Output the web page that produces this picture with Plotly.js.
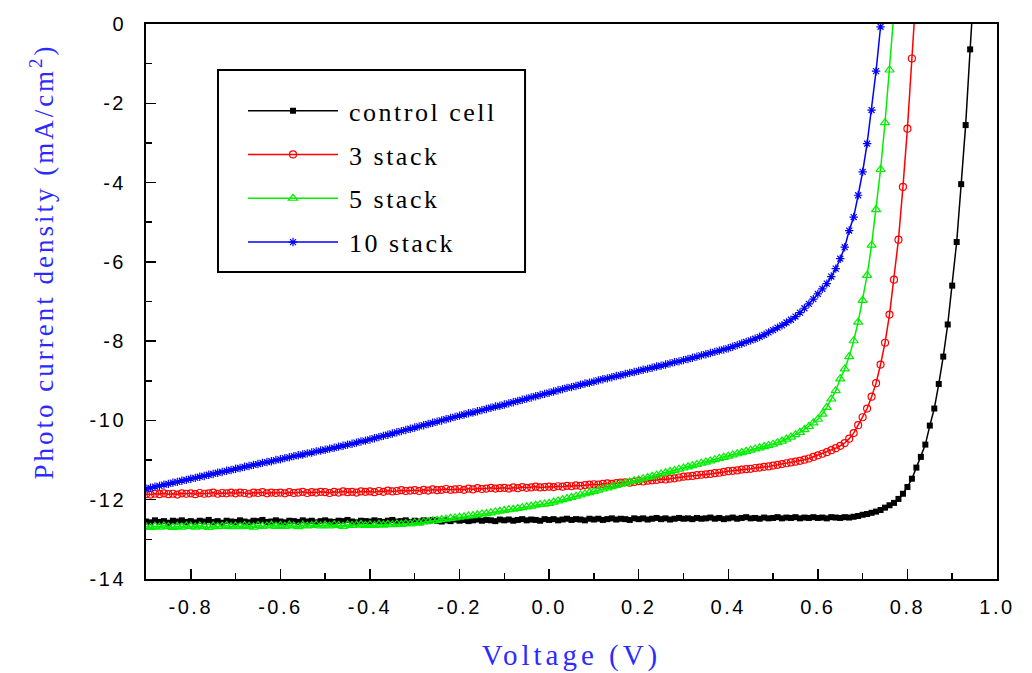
<!DOCTYPE html>
<html>
<head>
<meta charset="utf-8">
<script src="https://cdn.plot.ly/plotly-3.0.1.min.js"></script>
<style>
  html, body { margin: 0; padding: 0; background: #fff; }
  #chart { width: 1032px; height: 673px; }
  .xtick text, .ytick text { letter-spacing: 2.5px; }
  .g-xtitle text { letter-spacing: 4px; }
  .g-ytitle text { letter-spacing: 3px; }
  .legendtext { letter-spacing: 2.5px; }
</style>
</head>
<body>
<div id="chart"></div>
<script>
// Bias voltage sweep (V), 10 mV steps
const voltage = [
  -0.90,-0.89,-0.88,-0.87,-0.86,-0.85,-0.84,-0.83,-0.82,-0.81,
  -0.80,-0.79,-0.78,-0.77,-0.76,-0.75,-0.74,-0.73,-0.72,-0.71,
  -0.70,-0.69,-0.68,-0.67,-0.66,-0.65,-0.64,-0.63,-0.62,-0.61,
  -0.60,-0.59,-0.58,-0.57,-0.56,-0.55,-0.54,-0.53,-0.52,-0.51,
  -0.50,-0.49,-0.48,-0.47,-0.46,-0.45,-0.44,-0.43,-0.42,-0.41,
  -0.40,-0.39,-0.38,-0.37,-0.36,-0.35,-0.34,-0.33,-0.32,-0.31,
  -0.30,-0.29,-0.28,-0.27,-0.26,-0.25,-0.24,-0.23,-0.22,-0.21,
  -0.20,-0.19,-0.18,-0.17,-0.16,-0.15,-0.14,-0.13,-0.12,-0.11,
  -0.10,-0.09,-0.08,-0.07,-0.06,-0.05,-0.04,-0.03,-0.02,-0.01,
  0.00,0.01,0.02,0.03,0.04,0.05,0.06,0.07,0.08,0.09,
  0.10,0.11,0.12,0.13,0.14,0.15,0.16,0.17,0.18,0.19,
  0.20,0.21,0.22,0.23,0.24,0.25,0.26,0.27,0.28,0.29,
  0.30,0.31,0.32,0.33,0.34,0.35,0.36,0.37,0.38,0.39,
  0.40,0.41,0.42,0.43,0.44,0.45,0.46,0.47,0.48,0.49,
  0.50,0.51,0.52,0.53,0.54,0.55,0.56,0.57,0.58,0.59,
  0.60,0.61,0.62,0.63,0.64,0.65,0.66,0.67,0.68,0.69,
  0.70,0.71,0.72,0.73,0.74,0.75,0.76,0.77,0.78,0.79,
  0.80,0.81,0.82,0.83,0.84,0.85,0.86,0.87,0.88,0.89,
  0.90,0.91,0.92,0.93,0.94,0.95
];

// Photo current density (mA/cm2) per device
const controlCell = [
  -12.55,-12.57,-12.52,-12.56,-12.54,-12.58,-12.53,-12.55,-12.52,-12.56,
  -12.54,-12.57,-12.53,-12.55,-12.51,-12.56,-12.54,-12.58,-12.53,-12.55,
  -12.56,-12.52,-12.55,-12.57,-12.53,-12.54,-12.51,-12.56,-12.55,-12.52,
  -12.55,-12.57,-12.53,-12.54,-12.56,-12.52,-12.55,-12.53,-12.57,-12.54,
  -12.52,-12.55,-12.56,-12.53,-12.54,-12.51,-12.55,-12.57,-12.53,-12.54,
  -12.55,-12.52,-12.54,-12.56,-12.53,-12.51,-12.55,-12.54,-12.52,-12.56,
  -12.53,-12.55,-12.52,-12.54,-12.51,-12.53,-12.55,-12.52,-12.54,-12.50,
  -12.53,-12.51,-12.54,-12.52,-12.50,-12.53,-12.51,-12.52,-12.54,-12.50,
  -12.52,-12.50,-12.53,-12.51,-12.49,-12.52,-12.50,-12.51,-12.53,-12.49,
  -12.51,-12.49,-12.52,-12.50,-12.48,-12.51,-12.49,-12.50,-12.52,-12.48,
  -12.50,-12.48,-12.51,-12.49,-12.47,-12.50,-12.48,-12.49,-12.51,-12.47,
  -12.49,-12.47,-12.50,-12.48,-12.46,-12.49,-12.47,-12.50,-12.48,-12.46,
  -12.48,-12.47,-12.49,-12.46,-12.48,-12.47,-12.45,-12.48,-12.46,-12.49,
  -12.47,-12.45,-12.48,-12.46,-12.44,-12.47,-12.46,-12.48,-12.45,-12.47,
  -12.46,-12.44,-12.47,-12.45,-12.46,-12.44,-12.47,-12.45,-12.46,-12.44,
  -12.46,-12.45,-12.47,-12.44,-12.45,-12.46,-12.44,-12.45,-12.43,-12.41,
  -12.38,-12.36,-12.33,-12.30,-12.26,-12.20,-12.14,-12.08,-11.98,-11.85,
  -11.68,-11.47,-11.19,-10.92,-10.61,-10.13,-9.70,-9.08,-8.39,-7.58,
  -6.60,-5.50,-4.04,-2.55,-0.64,1.20
];

const stack3 = [
  -11.86,-11.87,-11.85,-11.86,-11.84,-11.86,-11.85,-11.87,-11.84,-11.85,
  -11.84,-11.86,-11.83,-11.85,-11.84,-11.82,-11.85,-11.83,-11.84,-11.82,
  -11.84,-11.82,-11.83,-11.85,-11.82,-11.83,-11.81,-11.84,-11.82,-11.83,
  -11.82,-11.84,-11.81,-11.83,-11.82,-11.80,-11.83,-11.81,-11.82,-11.80,
  -11.81,-11.83,-11.80,-11.82,-11.79,-11.81,-11.80,-11.82,-11.79,-11.80,
  -11.79,-11.81,-11.78,-11.80,-11.77,-11.79,-11.78,-11.76,-11.78,-11.77,
  -11.76,-11.78,-11.75,-11.77,-11.74,-11.76,-11.75,-11.73,-11.75,-11.74,
  -11.73,-11.75,-11.72,-11.74,-11.71,-11.73,-11.72,-11.70,-11.72,-11.71,
  -11.70,-11.72,-11.69,-11.71,-11.68,-11.70,-11.69,-11.67,-11.69,-11.68,
  -11.67,-11.68,-11.66,-11.67,-11.65,-11.66,-11.64,-11.65,-11.63,-11.62,
  -11.61,-11.62,-11.60,-11.59,-11.60,-11.58,-11.57,-11.56,-11.57,-11.55,
  -11.53,-11.54,-11.52,-11.51,-11.50,-11.48,-11.49,-11.47,-11.46,-11.44,
  -11.42,-11.41,-11.40,-11.38,-11.37,-11.36,-11.35,-11.33,-11.32,-11.30,
  -11.28,-11.27,-11.26,-11.24,-11.23,-11.22,-11.20,-11.19,-11.17,-11.16,
  -11.14,-11.12,-11.10,-11.08,-11.06,-11.04,-11.02,-10.99,-10.96,-10.92,
  -10.88,-10.84,-10.80,-10.75,-10.70,-10.64,-10.57,-10.46,-10.32,-10.12,
  -9.92,-9.70,-9.40,-9.06,-8.59,-8.04,-7.33,-6.45,-5.44,-4.11,
  -2.64,-0.87,0.90
];

const stack5 = [
  -12.68,-12.70,-12.67,-12.69,-12.66,-12.68,-12.70,-12.67,-12.69,-12.66,
  -12.67,-12.69,-12.66,-12.68,-12.70,-12.66,-12.68,-12.67,-12.65,-12.68,
  -12.66,-12.68,-12.65,-12.67,-12.69,-12.65,-12.67,-12.66,-12.64,-12.67,
  -12.65,-12.67,-12.64,-12.66,-12.68,-12.64,-12.66,-12.65,-12.63,-12.66,
  -12.64,-12.66,-12.63,-12.65,-12.67,-12.63,-12.65,-12.64,-12.62,-12.65,
  -12.63,-12.65,-12.62,-12.64,-12.62,-12.63,-12.61,-12.62,-12.60,-12.61,
  -12.58,-12.59,-12.56,-12.55,-12.53,-12.52,-12.50,-12.49,-12.47,-12.46,
  -12.44,-12.43,-12.41,-12.40,-12.38,-12.36,-12.35,-12.33,-12.31,-12.29,
  -12.27,-12.25,-12.24,-12.22,-12.20,-12.18,-12.16,-12.14,-12.12,-12.11,
  -12.09,-12.06,-12.03,-12.00,-11.97,-11.94,-11.91,-11.88,-11.85,-11.82,
  -11.79,-11.76,-11.73,-11.70,-11.67,-11.64,-11.61,-11.58,-11.55,-11.52,
  -11.50,-11.47,-11.44,-11.41,-11.38,-11.35,-11.32,-11.29,-11.26,-11.23,
  -11.20,-11.17,-11.14,-11.11,-11.08,-11.05,-11.02,-10.99,-10.96,-10.93,
  -10.90,-10.87,-10.84,-10.81,-10.78,-10.75,-10.72,-10.69,-10.66,-10.63,
  -10.60,-10.56,-10.52,-10.47,-10.42,-10.36,-10.30,-10.23,-10.15,-10.06,
  -9.97,-9.84,-9.67,-9.46,-9.25,-8.95,-8.70,-8.39,-7.99,-7.52,
  -6.97,-6.34,-5.58,-4.68,-3.67,-2.49,-1.16,0.30
];

const stack10 = [
  -11.72,-11.70,-11.67,-11.65,-11.62,-11.60,-11.57,-11.55,-11.52,-11.50,
  -11.47,-11.45,-11.42,-11.40,-11.37,-11.35,-11.32,-11.30,-11.27,-11.25,
  -11.22,-11.20,-11.17,-11.15,-11.12,-11.10,-11.07,-11.05,-11.03,-11.00,
  -10.98,-10.95,-10.93,-10.90,-10.88,-10.86,-10.83,-10.81,-10.78,-10.76,
  -10.74,-10.71,-10.69,-10.66,-10.64,-10.61,-10.59,-10.56,-10.53,-10.51,
  -10.48,-10.45,-10.42,-10.39,-10.36,-10.33,-10.30,-10.27,-10.24,-10.21,
  -10.18,-10.15,-10.12,-10.09,-10.06,-10.03,-10.00,-9.97,-9.94,-9.91,
  -9.88,-9.85,-9.82,-9.80,-9.77,-9.74,-9.71,-9.68,-9.65,-9.63,
  -9.60,-9.57,-9.54,-9.51,-9.48,-9.45,-9.42,-9.39,-9.36,-9.33,
  -9.30,-9.27,-9.24,-9.21,-9.18,-9.16,-9.13,-9.10,-9.07,-9.05,
  -9.02,-8.99,-8.96,-8.94,-8.91,-8.88,-8.86,-8.83,-8.80,-8.78,
  -8.75,-8.72,-8.70,-8.67,-8.64,-8.62,-8.59,-8.56,-8.53,-8.51,
  -8.48,-8.45,-8.42,-8.39,-8.36,-8.33,-8.30,-8.27,-8.24,-8.21,
  -8.18,-8.14,-8.10,-8.06,-8.02,-7.98,-7.94,-7.89,-7.84,-7.78,
  -7.72,-7.66,-7.60,-7.53,-7.46,-7.38,-7.28,-7.17,-7.06,-6.94,
  -6.81,-6.68,-6.55,-6.37,-6.17,-5.92,-5.63,-5.21,-4.87,-4.32,
  -3.73,-3.02,-2.17,-1.19,-0.07
];

const seriesNames = ['control cell', '3 stack', '5 stack', '10 stack'];

const xTickVals = [-0.8, -0.6, -0.4, -0.2, 0.0, 0.2, 0.4, 0.6, 0.8, 1.0];
const xTickText = ['-0.8', '-0.6', '-0.4', '-0.2', '0.0', '0.2', '0.4', '0.6', '0.8', '1.0'];
const yTickVals = [0, -2, -4, -6, -8, -10, -12, -14];
const yTickText = ['0', '-2', '-4', '-6', '-8', '-10', '-12', '-14'];

const titleBlue = '#2b2bff';
const serif = 'Liberation Serif, Times New Roman, serif';
const sans = 'Liberation Sans, Arial, sans-serif';

function curve(y, name, color, symbol, size, filled) {
  return {
    type: 'scatter',
    mode: 'lines+markers',
    x: voltage.slice(0, y.length),
    y: y,
    name: name,
    legendgroup: name,
    line: { color: color, width: 1.5 },
    marker: {
      symbol: symbol,
      size: size,
      color: color,
      line: { color: color, width: filled ? 0 : 1.2 }
    },
    cliponaxis: true
  };
}

const traces = [
  curve(controlCell, seriesNames[0], '#000000', 'square', 6, true),
  curve(stack3, seriesNames[1], '#ff0000', 'circle-open', 7, false),
  curve(stack5, seriesNames[2], '#00ee00', 'triangle-up-open', 8, false),
  curve(stack10, seriesNames[3], '#0000ff', 'asterisk-open', 7, false)
];

const layout = {
  width: 1032,
  height: 673,
  margin: { l: 146, r: 35, t: 24, b: 94 },
  paper_bgcolor: '#ffffff',
  plot_bgcolor: '#ffffff',
  showlegend: true,
  legend: {
    x: 0.114, y: 0.886, xanchor: 'left', yanchor: 'top',
    bgcolor: 'rgba(0,0,0,0)', borderwidth: 0,
    font: { family: serif, size: 26, color: '#000' },
    itemwidth: 96,
    tracegroupgap: 7,
    traceorder: 'grouped'
  },
  shapes: [{
    type: 'rect', xref: 'paper', yref: 'paper',
    x0: 0.0846, x1: 0.4454, y0: 0.5532, y1: 0.9171,
    line: { color: '#000', width: 2 }, fillcolor: 'rgba(0,0,0,0)', layer: 'above'
  }],
  xaxis: {
    range: [-0.9, 1.0],
    tickmode: 'array', tickvals: xTickVals, ticktext: xTickText,
    ticks: 'inside', ticklen: 10, tickwidth: 1.5, tickcolor: '#000',
    minor: { tickmode: 'linear', tick0: 0, dtick: 0.1, ticks: 'inside', ticklen: 6, tickwidth: 1.5, tickcolor: '#000' },
    showline: true, linecolor: '#000', linewidth: 2, mirror: true,
    showgrid: false, zeroline: false,
    tickfont: { family: sans, size: 20, color: '#000' },
    ticklabelstandoff: 9,
    title: { text: 'Voltage (V)', font: { family: serif, size: 29, color: titleBlue }, standoff: 28 }
  },
  yaxis: {
    range: [-14, 0],
    tickmode: 'array', tickvals: yTickVals, ticktext: yTickText,
    ticks: 'inside', ticklen: 10, tickwidth: 1.5, tickcolor: '#000',
    minor: { tickmode: 'linear', tick0: 0, dtick: 1, ticks: 'inside', ticklen: 6, tickwidth: 1.5, tickcolor: '#000' },
    showline: true, linecolor: '#000', linewidth: 2, mirror: true,
    showgrid: false, zeroline: false,
    tickfont: { family: sans, size: 20, color: '#000' },
    ticklabelstandoff: 14,
    title: {
      text: 'Photo current density (mA/cm<sup>2</sup>)',
      font: { family: serif, size: 27, color: titleBlue }, standoff: 28
    }
  }
};

Plotly.newPlot('chart', traces, layout, { displayModeBar: false, staticPlot: true }).then(function (gd) {
  // Longer legend line samples with the symbol centred on them
  gd.querySelectorAll('.legend .traces').forEach(function (item) {
    item.querySelectorAll('.legendlines path').forEach(function (p) { p.setAttribute('d', 'M5,0h90'); });
    item.querySelectorAll('.legendsymbols .scatterpts').forEach(function (p) { p.setAttribute('transform', 'translate(50,0)'); });
  });
  // Sit the vertical axis title a little above the axis midpoint
  gd.querySelectorAll('.g-ytitle').forEach(function (g) { g.setAttribute('transform', 'translate(0,-40)'); });
});
</script>
</body>
</html>
